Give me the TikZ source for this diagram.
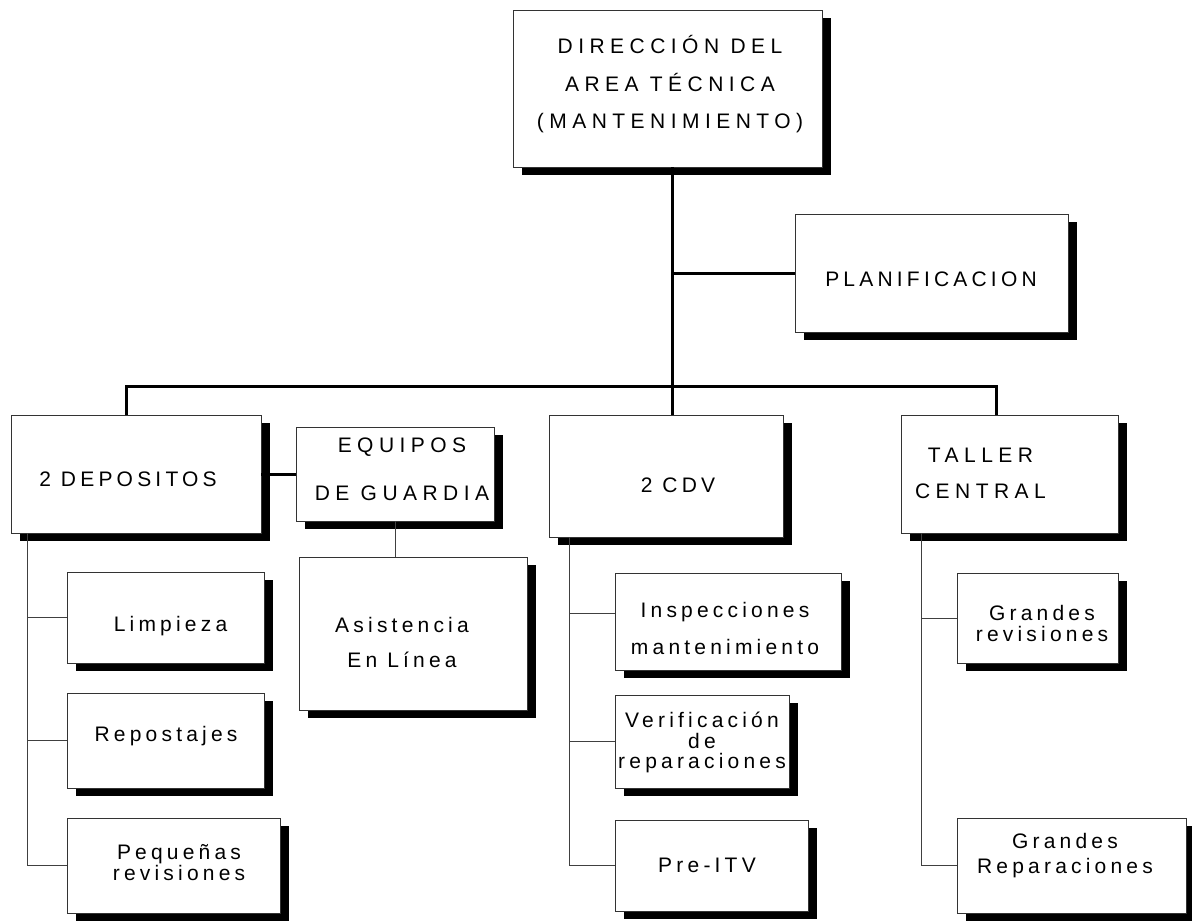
\documentclass[tikz,border=0pt]{standalone}
\usepackage{fontspec}
\newfontfamily\lsf[LetterSpace=20]{Liberation Sans}
\newfontfamily\lsfw[LetterSpace=26]{Liberation Sans}
\usetikzlibrary{shadows,calc}
\begin{document}
\begin{tikzpicture}[x=1pt,y=-1pt,
  box/.style={draw=black!80, line width=0.8pt, fill=white, inner sep=0pt, outer sep=0pt,
    drop shadow={shadow xshift=9pt, shadow yshift=-8pt, opacity=1, fill=black}},
  txt/.style={align=center, inner sep=0pt, font=\lsf\fontsize{21}{#1}\selectfont},
  txt/.default=21,
  wtxt/.style={align=center, inner sep=0pt, font=\lsfw\fontsize{21}{#1}\selectfont},
  wtxt/.default=21,
  heavy/.style={line width=3pt, black},
  light/.style={line width=0.9pt, black!75}]
\useasboundingbox (0,0) rectangle (1192,922);

% boxes
\node[box, minimum width=309pt, minimum height=157pt] (dir) at (667.5,88.5) {};
\node[box, minimum width=273pt, minimum height=118pt] (plan) at (931.5,273) {};
\node[box, minimum width=250pt, minimum height=118pt] (dep) at (136,474) {};
\node[box, minimum width=198pt, minimum height=94pt] (equ) at (395,474) {};
\node[box, minimum width=234pt, minimum height=122pt] (cdv) at (666,476) {};
\node[box, minimum width=217pt, minimum height=118pt] (tal) at (1009.5,474) {};
\node[box, minimum width=197pt, minimum height=91pt] (lim) at (165.5,617.5) {};
\node[box, minimum width=197pt, minimum height=95pt] (rep) at (165.5,740.5) {};
\node[box, minimum width=213pt, minimum height=95pt] (peq) at (173.5,865.5) {};
\node[box, minimum width=228pt, minimum height=153pt] (asi) at (413,633.5) {};
\node[box, minimum width=226pt, minimum height=97pt] (ins) at (728,621.5) {};
\node[box, minimum width=174pt, minimum height=93pt] (ver) at (702,741.5) {};
\node[box, minimum width=193pt, minimum height=91pt] (pre) at (711.5,865.5) {};
\node[box, minimum width=161pt, minimum height=90pt] (gre) at (1037.5,618) {};
\node[box, minimum width=229pt, minimum height=95pt] (grr) at (1071.5,865.5) {};

% labels
\node[wtxt=37.5] (tdir) at (670,84.5) {DIRECCIÓN DEL\\AREA TÉCNICA\\(MANTENIMIENTO)};
\node[txt] (tplan) at (931,279) {PLANIFICACION};
\node[txt] (tdep) at (128,479) {2 DEPOSITOS};
\node[wtxt=48] (tequ) at (402,469) {EQUIPOS\\DE GUARDIA};
\node[txt] (tcdv) at (678,485) {2 CDV};
\node[wtxt=36] (ttal) at (980.5,473) {TALLER\\CENTRAL};
\node[txt] (tlim) at (170.5,626) {Limpieza};
\node[txt] (trep) at (166,736) {Repostajes};
\node[txt=21] (tpeq) at (179,862.5) {Pequeñas\\revisiones};
\node[txt=35] (tasi) at (402,642.5) {Asistencia\\En Línea};
\node[txt=37] (tins) at (725,628.5) {Inspecciones\\mantenimiento};
\node[txt=20.5] (tver) at (702,742.5) {Verificación\\de\\reparaciones};
\node[txt] (tpre) at (707,865) {Pre-ITV};
\node[txt=21] (tgre) at (1042,623.5) {Grandes\\revisiones};
\node[txt=25] (tgrr) at (1065,855.5) {Grandes\\Reparaciones};

% trunk and bus
\coordinate (trunk) at (672,386);
\coordinate (busL) at (126,386);
\coordinate (busR) at (996,386);
\draw[heavy] (dir.south -| trunk) -- (cdv.north -| trunk);
\draw[heavy] (trunk |- plan.west) -- (plan.west);
\draw[heavy] (dep.north -| busL) -- (busL) -- (busR) -- (tal.north -| busR);
\draw[heavy] (dep.east) -- (equ.west);
\draw[light] (equ.south) -- (equ.south |- asi.north);

% branches
\coordinate (depx) at (27,0);
\coordinate (cdvx) at (569,0);
\coordinate (talx) at (921,0);
\coordinate (insin) at ($(ins.west)+(0,-8)$);
\draw[light] (dep.south -| depx) -- (depx |- peq.west) -- (peq.west);
\draw[light] (depx |- lim.west) -- (lim.west);
\draw[light] (depx |- rep.west) -- (rep.west);
\draw[light] (cdv.south -| cdvx) -- (cdvx |- pre.west) -- (pre.west);
\draw[light] (cdvx |- insin) -- (insin);
\draw[light] (cdvx |- ver.west) -- (ver.west);
\draw[light] (tal.south -| talx) -- (talx |- grr.west) -- (grr.west);
\draw[light] (talx |- gre.west) -- (gre.west);
\end{tikzpicture}
\end{document}
